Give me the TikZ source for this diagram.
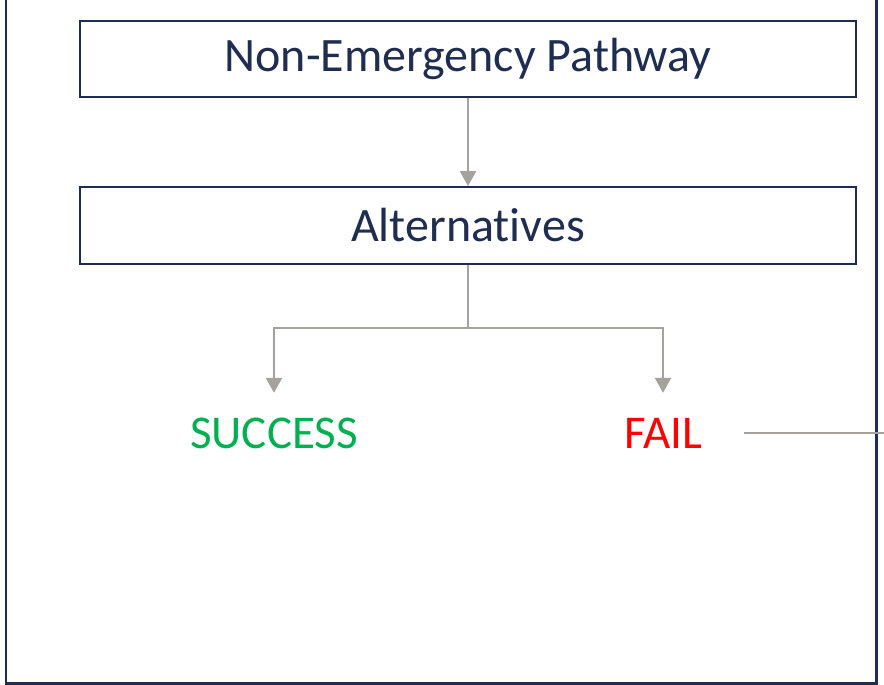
\documentclass[tikz,border=0pt]{standalone}
\usepackage{fontspec}
\setmainfont{Carlito}[RawFeature=-liga]
\usetikzlibrary{arrows.meta}
\definecolor{navy}{HTML}{1F2D50}
\definecolor{conngray}{HTML}{A5A29D}
\definecolor{okgreen}{HTML}{00B050}
\definecolor{failred}{HTML}{FF0000}
\tikzset{
  box/.style={draw=navy, line width=1.8pt, minimum width=776pt, inner sep=0pt, text=navy, font=\fontsize{48}{54}\selectfont},
  outcome/.style={anchor=base, inner xsep=0pt, inner ysep=24pt, text height=31pt, text depth=0pt, font=\fontsize{47}{54}\selectfont},
  conn/.style={draw=conngray, line width=2.4pt},
  arr/.style={conn, -{Triangle[width=16pt,length=15pt]}},
  frame/.style={draw=navy, line width=2.2pt}
}
\begin{document}
\begin{tikzpicture}[x=1pt,y=-1pt]
\useasboundingbox (0,0) rectangle (884,685);
\draw[frame] (6,-10) -- (6,683.5) -- (876.5,683.5) -- (876.5,-10);
\node[box, minimum height=76pt] (path) at (468,59) {Non-Emergency Pathway};
\node[box, minimum height=77pt] (alt) at (468,225.5) {Alternatives};
\node[outcome, text=okgreen] (succ) at (274,448) {SUCCESS};
\node[outcome, text=failred] (fail) at (663,448) {FAIL};
\coordinate (jn) at (468,328);
\coordinate (exit) at (886,433);
\draw[arr] (path.south) -- (alt.north);
\draw[conn] (alt.south) -- (jn);
\draw[arr] (jn) -| (succ.north);
\draw[arr] (jn) -| (fail.north);
\draw[conn, shorten <=42pt] (fail.east |- exit) -- (exit);
\end{tikzpicture}
\end{document}
